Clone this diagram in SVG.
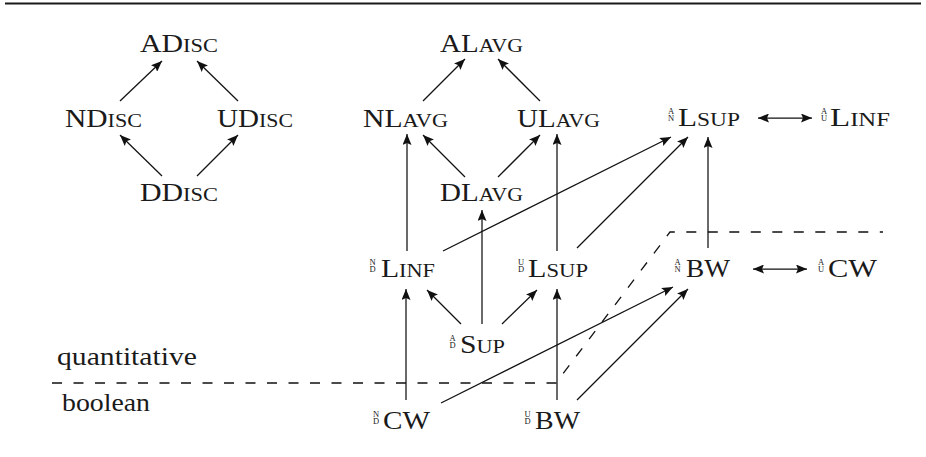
<svg xmlns="http://www.w3.org/2000/svg" width="926" height="457" viewBox="0 0 926 457">
  <defs>
    <marker id="arr" markerUnits="userSpaceOnUse" markerWidth="12" markerHeight="9" refX="11" refY="4.5" orient="auto-start-reverse">
      <path d="M0,0 L11,4.5 L0,9 L2,4.5 Z" fill="#111"/>
    </marker>
    <style>
      text { font-family: "Liberation Serif", "Times New Roman", serif; fill: #1a1a1a; }
      .m { font-size: 26px; }
      .sc { font-size: 19.5px; }
      .st { font-size: 8.5px; }
      .e { stroke: #111; stroke-width: 1.25; fill: none; marker-end: url(#arr); }
      .d { stroke: #111; stroke-width: 1.25; fill: none; marker-start: url(#arr); marker-end: url(#arr); }
      .dash { stroke: #111; stroke-width: 1.3; fill: none; stroke-dasharray: 10 11.5; }
    </style>
  </defs>

  <rect width="926" height="457" fill="#fff"/>
  <line x1="5" y1="3.5" x2="921" y2="3.5" stroke="#1a1a1a" stroke-width="2.2"/>

  <!-- discounted family -->
  <g id="ADisc"><text class="m" x="140" y="52" textLength="78" lengthAdjust="spacingAndGlyphs">AD<tspan class="sc">ISC</tspan></text></g>
  <g id="NDisc"><text class="m" x="65" y="127" textLength="77" lengthAdjust="spacingAndGlyphs">ND<tspan class="sc">ISC</tspan></text></g>
  <g id="UDisc"><text class="m" x="217" y="127" textLength="76" lengthAdjust="spacingAndGlyphs">UD<tspan class="sc">ISC</tspan></text></g>
  <g id="DDisc"><text class="m" x="140" y="201" textLength="78" lengthAdjust="spacingAndGlyphs">DD<tspan class="sc">ISC</tspan></text></g>

  <!-- limit-average family -->
  <g id="ALavg"><text class="m" x="440" y="52" textLength="83" lengthAdjust="spacingAndGlyphs">AL<tspan class="sc">AVG</tspan></text></g>
  <g id="NLavg"><text class="m" x="363" y="127" textLength="85" lengthAdjust="spacingAndGlyphs">NL<tspan class="sc">AVG</tspan></text></g>
  <g id="ULavg"><text class="m" x="517" y="127" textLength="83" lengthAdjust="spacingAndGlyphs">UL<tspan class="sc">AVG</tspan></text></g>
  <g id="DLavg"><text class="m" x="440" y="201" textLength="83" lengthAdjust="spacingAndGlyphs">DL<tspan class="sc">AVG</tspan></text></g>

  <!-- sup / inf / boolean family: small stacked prefix, then the main name -->
  <g id="ANLsup">
    <text class="st" text-anchor="middle"><tspan x="671" y="114">A</tspan><tspan x="671" y="121">N</tspan></text>
    <text class="m" x="678" y="126" textLength="62" lengthAdjust="spacingAndGlyphs">L<tspan class="sc">SUP</tspan></text>
  </g>
  <g id="AULinf">
    <text class="st" text-anchor="middle"><tspan x="824" y="114">A</tspan><tspan x="824" y="121">U</tspan></text>
    <text class="m" x="830" y="126" textLength="60" lengthAdjust="spacingAndGlyphs">L<tspan class="sc">INF</tspan></text>
  </g>
  <g id="NDLinf">
    <text class="st" text-anchor="middle"><tspan x="372.5" y="265">N</tspan><tspan x="372.5" y="272">D</tspan></text>
    <text class="m" x="381" y="277" textLength="54" lengthAdjust="spacingAndGlyphs">L<tspan class="sc">INF</tspan></text>
  </g>
  <g id="UDLsup">
    <text class="st" text-anchor="middle"><tspan x="521" y="265">U</tspan><tspan x="521" y="272">D</tspan></text>
    <text class="m" x="528" y="277" textLength="60" lengthAdjust="spacingAndGlyphs">L<tspan class="sc">SUP</tspan></text>
  </g>
  <g id="ANBW">
    <text class="st" text-anchor="middle"><tspan x="677.5" y="265">A</tspan><tspan x="677.5" y="272">N</tspan></text>
    <text class="m" x="686" y="277" textLength="44" lengthAdjust="spacingAndGlyphs">BW</text>
  </g>
  <g id="AUCW">
    <text class="st" text-anchor="middle"><tspan x="821" y="265">A</tspan><tspan x="821" y="272">U</tspan></text>
    <text class="m" x="828" y="277" textLength="49" lengthAdjust="spacingAndGlyphs">CW</text>
  </g>
  <g id="ADSup">
    <text class="st" text-anchor="middle"><tspan x="452.5" y="341">A</tspan><tspan x="452.5" y="348">D</tspan></text>
    <text class="m" x="460" y="353" textLength="45" lengthAdjust="spacingAndGlyphs">S<tspan class="sc">UP</tspan></text>
  </g>
  <g id="NDCW">
    <text class="st" text-anchor="middle"><tspan x="376" y="417">N</tspan><tspan x="376" y="424">D</tspan></text>
    <text class="m" x="383" y="429" textLength="47" lengthAdjust="spacingAndGlyphs">CW</text>
  </g>
  <g id="UDBW">
    <text class="st" text-anchor="middle"><tspan x="527.5" y="417">U</tspan><tspan x="527.5" y="424">D</tspan></text>
    <text class="m" x="535" y="429" textLength="45" lengthAdjust="spacingAndGlyphs">BW</text>
  </g>

  <!-- region labels and separator -->
  <g id="labels">
    <text class="m" x="57" y="365" textLength="140" lengthAdjust="spacingAndGlyphs">quantitative</text>
    <text class="m" x="62" y="411" textLength="88" lengthAdjust="spacingAndGlyphs">boolean</text>
  </g>
  <g id="separator">
    <path class="dash" d="M52,383 H556 L670,232 H883"/>
  </g>

  <g id="connectors">
    <!-- discounted lattice -->
    <line class="e" x1="120" y1="101" x2="162" y2="61"/>
    <line class="e" x1="238" y1="101" x2="197" y2="61"/>
    <line class="e" x1="162" y1="176" x2="120" y2="135"/>
    <line class="e" x1="197" y1="176" x2="238" y2="135"/>
    <!-- limit-average lattice -->
    <line class="e" x1="423" y1="101" x2="465" y2="59"/>
    <line class="e" x1="540" y1="101" x2="498" y2="59"/>
    <line class="e" x1="465" y1="177" x2="423" y2="135"/>
    <line class="e" x1="498" y1="177" x2="540" y2="135"/>
    <line class="e" x1="407" y1="251" x2="407" y2="134"/>
    <line class="e" x1="557" y1="251" x2="557" y2="134"/>
    <!-- towards A/N Lsup -->
    <line class="e" x1="443" y1="251" x2="671" y2="137"/>
    <line class="e" x1="577" y1="248" x2="688" y2="137"/>
    <line class="e" x1="708" y1="248" x2="708" y2="137"/>
    <line class="d" x1="758" y1="118" x2="812" y2="118"/>
    <!-- Sup -->
    <line class="e" x1="461" y1="324" x2="427" y2="290"/>
    <line class="e" x1="482" y1="324" x2="482" y2="210"/>
    <line class="e" x1="502" y1="324" x2="537" y2="290"/>
    <!-- boolean to quantitative -->
    <line class="e" x1="406" y1="400" x2="406" y2="289"/>
    <line class="e" x1="557" y1="400" x2="557" y2="289"/>
    <line class="e" x1="441" y1="403" x2="673" y2="287"/>
    <line class="e" x1="577" y1="400" x2="688" y2="289"/>
    <line class="d" x1="753" y1="269" x2="807" y2="269"/>
  </g>
</svg>
